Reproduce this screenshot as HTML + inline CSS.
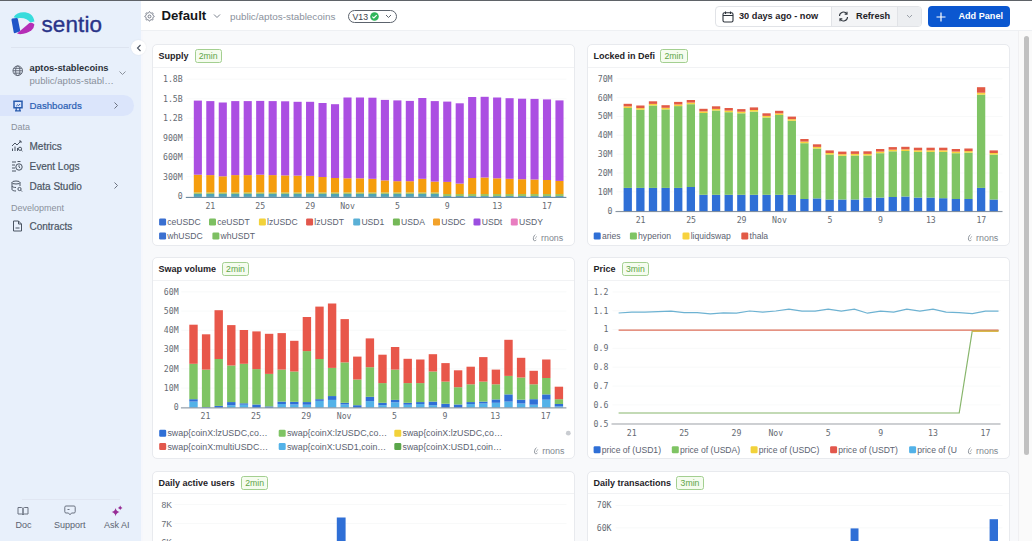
<!DOCTYPE html>
<html><head><meta charset="utf-8">
<style>
*{box-sizing:border-box;margin:0;padding:0}
html,body{width:1032px;height:541px;overflow:hidden;background:#f8f9fb;font-family:"Liberation Sans",Arial,sans-serif;}
.abs{position:absolute}
#sidebar{position:absolute;left:0;top:0;width:140.5px;height:541px;background:#e8f0fb;}
#header{position:absolute;left:141px;top:0;width:891px;height:31px;background:#fff;border-bottom:1px solid #eef0f3}
#topline{position:absolute;left:0;top:0;width:1032px;height:1px;background:#5f6368;z-index:5}
.panel{position:absolute;width:423px;height:202px;background:#fff;border:1px solid #e8eaee;border-radius:5px;overflow:hidden}
.ptitle{position:absolute;left:5.5px;top:5px;font-size:9px;font-weight:bold;color:#1f2328;white-space:nowrap;line-height:11px}
.badge{position:absolute;top:4px;height:14px;border:1px solid #a3cf90;background:#f5fcef;color:#5fa548;font-size:8.7px;line-height:12px;padding:0 3.2px;border-radius:2.5px}
.psep{position:absolute;left:0;top:21.6px;width:100%;height:1px;background:#f1f2f4}
.nav{position:absolute;left:11px;font-size:10px;color:#4b5563;white-space:nowrap;-webkit-text-stroke:0.2px #4b5563}
.sect{position:absolute;left:11px;font-size:9px;color:#8a919c}
svg text{white-space:pre}
</style></head><body>
<div id="topline"></div>
<div class="abs" style="left:140.5px;top:0;width:2.5px;height:541px;background:#f6f7fc"></div>
<div id="sidebar">
 <svg class="abs" style="left:8px;top:9px" width="30" height="30" viewBox="0 0 30 30">
   <path d="M5.6 8.2 C8.5 3.2 16.5 1.6 22.5 5.2 C24.6 6.6 26 9.3 26.4 12.6 L22.3 13.6 C20.2 10.6 15.4 8.3 9.8 9.4 Z" fill="#38dcdc"/>
   <path d="M4.3 9.4 Q3.3 9.7 3.5 11 L5.7 23.2 Q6.1 24.5 7.3 24.1 L11.6 22.6 Q12.4 22.1 12.1 21 L9.9 10.3 Q9.6 9.1 8.5 9.1 Z" fill="#1f55c8"/>
   <path d="M9 24.6 L21.4 14.1 Q24.6 13.2 26.4 15.6 Q26.1 19.2 23.5 21.2 Q19 24.6 12 25.3 Z" fill="#b52db6"/>
 </svg>
 <div class="abs" style="left:41.5px;top:11.5px;font-size:22.5px;color:#2a3489;letter-spacing:0.1px;-webkit-text-stroke:0.35px #2a3489">sentio</div>
 <div class="abs" style="left:11px;top:46.5px;width:118px;height:1px;background:#dde4f0"></div>
 <svg class="abs" style="left:11.5px;top:65px" width="11.5" height="11.5" viewBox="0 0 12 12" fill="none" stroke="#5b6270" stroke-width="0.95">
   <circle cx="6" cy="6" r="5"/><ellipse cx="6" cy="6" rx="2.2" ry="5"/><path d="M1 6h10M1.8 3.5h8.4M1.8 8.5h8.4"/>
 </svg>
 <div class="abs" style="left:29.5px;top:62.8px;font-size:9.3px;font-weight:bold;color:#2d333b">aptos-stablecoins</div>
 <div class="abs" style="left:29.5px;top:75px;font-size:9.6px;color:#8a919c">public/aptos-stabl…</div>
 <svg class="abs" style="left:118px;top:70px" width="9" height="6" viewBox="0 0 9 6" fill="none" stroke="#8a919c" stroke-width="1"><path d="M1.5 1.5l3 3 3-3"/></svg>
 <div class="abs" style="left:0;top:95px;width:134px;height:21px;background:#dbe5fb;border-radius:0 11px 11px 0"></div>
 <svg class="abs" style="left:11.5px;top:99.5px" width="12" height="12" viewBox="0 0 12 12" fill="none" stroke="#2a5cae" stroke-width="1.5">
   <path d="M1.2 1.2h9.6M2 1.2v6.6h8V1.2"/><path d="M4.2 8v2.6M7.8 8v2.6M3 10.9h6" stroke-width="1.3"/><path d="M4.2 6.2l1.4-1.4 1 .8 1.5-1.6" stroke-width="1"/>
 </svg>
 <div class="nav" style="left:29.5px;top:100px;color:#2b5fb4;font-size:9.7px;-webkit-text-stroke:0.2px #2b5fb4">Dashboards</div>
 <svg class="abs" style="left:113px;top:101px" width="6" height="9" viewBox="0 0 6 9" fill="none" stroke="#6b7280" stroke-width="1"><path d="M1.5 1.5l3 3-3 3"/></svg>
 <div class="sect" style="top:122px">Data</div>
 <svg class="abs" style="left:11px;top:140px" width="12" height="12" viewBox="0 0 12 12" fill="none" stroke="#4b5563" stroke-width="1">
   <path d="M1 6l3-3 2 2 4-4M8 1h2v2"/><path d="M1.5 11V8.5M4 11V6.5M6.5 11V8"/><circle cx="9" cy="8.8" r="1.6"/><path d="M10.2 10l1.2 1.2"/>
 </svg>
 <div class="nav" style="left:29.5px;top:140.5px">Metrics</div>
 <svg class="abs" style="left:11px;top:160px" width="12" height="12" viewBox="0 0 12 12" fill="none" stroke="#4b5563" stroke-width="1">
   <path d="M1 2h4M1 5h3M1 8h3M1 11h4"/><circle cx="8" cy="7" r="3.2"/><path d="M8 5.2V7l1.2 1M6.5 1.5h3"/>
 </svg>
 <div class="nav" style="left:29.5px;top:160.5px">Event Logs</div>
 <svg class="abs" style="left:11px;top:180px" width="12" height="12" viewBox="0 0 12 12" fill="none" stroke="#4b5563" stroke-width="1">
   <ellipse cx="5" cy="2.5" rx="4" ry="1.5"/><path d="M1 2.5v7c0 .8 1.8 1.5 4 1.5M9 2.5V6M1 6c0 .8 1.8 1.5 4 1.5"/><circle cx="8.5" cy="9" r="1.6"/><path d="M9.7 10.2l1.3 1.3"/>
 </svg>
 <div class="nav" style="left:29.5px;top:180.5px">Data Studio</div>
 <svg class="abs" style="left:113px;top:181px" width="6" height="9" viewBox="0 0 6 9" fill="none" stroke="#6b7280" stroke-width="1"><path d="M1.5 1.5l3 3-3 3"/></svg>
 <div class="sect" style="top:202.5px">Development</div>
 <svg class="abs" style="left:11px;top:220px" width="12" height="12" viewBox="0 0 12 12" fill="none" stroke="#4b5563" stroke-width="1">
   <path d="M2.5 1h5l3 3v7h-8z"/><path d="M7.5 1v3h3M4.5 8h4"/>
 </svg>
 <div class="nav" style="left:29.5px;top:220.5px">Contracts</div>
 <div class="abs" style="left:22px;top:499px;width:98px;height:1px;background:#e0e6f2"></div>
 <svg class="abs" style="left:17px;top:506px" width="12" height="10" viewBox="0 0 12 10" fill="none" stroke="#6b7280" stroke-width="1">
   <path d="M1 1.5h3.5c.8 0 1.5.7 1.5 1.5v6c0-.6-.6-1-1.2-1H1zM11 1.5H7.5C6.7 1.5 6 2.2 6 3v6c0-.6.6-1 1.2-1H11z"/>
 </svg>
 <div class="abs" style="left:15.5px;top:520px;font-size:9px;color:#5b6270">Doc</div>
 <svg class="abs" style="left:64px;top:505px" width="12" height="11" viewBox="0 0 12 11" fill="none" stroke="#6b7280" stroke-width="1">
   <path d="M2 1h8a1.2 1.2 0 0 1 1.2 1.2v4.6A1.2 1.2 0 0 1 10 8H7.5L6 9.8 4.5 8H2A1.2 1.2 0 0 1 .8 6.8V2.2A1.2 1.2 0 0 1 2 1z"/><path d="M3.5 4.5h2"/>
 </svg>
 <div class="abs" style="left:54px;top:520px;font-size:9px;color:#5b6270">Support</div>
 <svg class="abs" style="left:110.5px;top:505px" width="12" height="12" viewBox="0 0 12 12" fill="#972c95">
   <path d="M4.6 3 Q5.3 6.4 8.6 7.1 Q5.3 7.8 4.6 11.2 Q3.9 7.8 0.6 7.1 Q3.9 6.4 4.6 3 Z"/><path d="M9.2 0.6 Q9.6 2.5 11.5 2.9 Q9.6 3.3 9.2 5.2 Q8.8 3.3 6.9 2.9 Q8.8 2.5 9.2 0.6 Z"/>
 </svg>
 <div class="abs" style="left:104px;top:520px;font-size:9px;color:#5b6270">Ask AI</div>
</div>
<div class="abs" style="left:131px;top:40px;width:15px;height:15px;border-radius:50%;background:#fff;box-shadow:0 0 2px rgba(0,0,0,0.08);z-index:3"></div>
<svg class="abs" style="left:135.5px;top:44px;z-index:4" width="6" height="8" viewBox="0 0 6 8" fill="none" stroke="#4b5563" stroke-width="1.1"><path d="M4.5 1l-3 3 3 3"/></svg>
<div id="header">
 <svg class="abs" style="left:3px;top:10.5px" width="11" height="11" viewBox="0 0 24 24" fill="none" stroke="#6b7280" stroke-width="2">
  <path d="M10.3 2.6c.4-1.3 3-1.3 3.4 0l.3 1a1.7 1.7 0 0 0 2.5 1l.9-.5c1.2-.7 3 1.1 2.3 2.3l-.5.9a1.7 1.7 0 0 0 1 2.5l1 .3c1.3.4 1.3 3 0 3.4l-1 .3a1.7 1.7 0 0 0-1 2.5l.5.9c.7 1.2-1.1 3-2.3 2.3l-.9-.5a1.7 1.7 0 0 0-2.5 1l-.3 1c-.4 1.3-3 1.3-3.4 0l-.3-1a1.7 1.7 0 0 0-2.5-1l-.9.5c-1.2.7-3-1.1-2.3-2.3l.5-.9a1.7 1.7 0 0 0-1-2.5l-1-.3c-1.3-.4-1.3-3 0-3.4l1-.3a1.7 1.7 0 0 0 1-2.5l-.5-.9c-.7-1.2 1.1-3 2.3-2.3l.9.5a1.7 1.7 0 0 0 2.5-1z"/><circle cx="12" cy="12" r="3.2"/>
 </svg>
 <div class="abs" style="left:20.5px;top:8.2px;font-size:13.2px;font-weight:bold;color:#15171a">Default</div>
 <svg class="abs" style="left:71.5px;top:13px" width="8" height="6" viewBox="0 0 8 6" fill="none" stroke="#7b828d" stroke-width="1"><path d="M1 1.5l3 3 3-3"/></svg>
 <div class="abs" style="left:89px;top:11px;font-size:9.9px;color:#8a919c">public/aptos-stablecoins</div>
 <div class="abs" style="left:206.5px;top:10px;width:49px;height:12.5px;border:1px solid #5c636d;border-radius:7px"></div>
 <div class="abs" style="left:211.5px;top:11.5px;font-size:8.7px;color:#3c424a">V13</div>
 <svg class="abs" style="left:229px;top:12px" width="9" height="9" viewBox="0 0 9 9"><circle cx="4.5" cy="4.5" r="4.3" fill="#2fb55a"/><path d="M2.3 4.6l1.5 1.4 2.9-2.9" fill="none" stroke="#fff" stroke-width="1.1"/></svg>
 <svg class="abs" style="left:244px;top:14px" width="7" height="5" viewBox="0 0 7 5" fill="none" stroke="#5c636d" stroke-width="1"><path d="M1 1l2.5 2.5L6 1"/></svg>
 <div class="abs" style="left:573.5px;top:6px;width:207px;height:20.5px;border:1px solid #e1e3e7;border-radius:4px;background:#fff;overflow:hidden">
   <div class="abs" style="left:115px;top:0;width:66px;height:100%;background:#f3f4f6;border-left:1px solid #e1e3e7"></div>
   <div class="abs" style="left:181px;top:0;width:26px;height:100%;background:#eceef1;border-left:1px solid #e1e3e7"></div>
 </div>
 <svg class="abs" style="left:580.5px;top:10.5px" width="12" height="12" viewBox="0 0 12 12" fill="none" stroke="#2d333b" stroke-width="1.1">
  <rect x="1" y="1.8" width="10" height="9.2" rx="1.5"/><path d="M1 4.5h10M3.5 .5v2.5M8.5 .5v2.5"/>
 </svg>
 <div class="abs" style="left:598px;top:10.5px;font-size:9.2px;font-weight:bold;color:#1f2328">30 days ago - now</div>
 <svg class="abs" style="left:697px;top:11px" width="11" height="11" viewBox="0 0 11 11" fill="none" stroke="#2d333b" stroke-width="1.1">
  <path d="M1.5 5A4 4 0 0 1 8.8 2.8M9.5 6A4 4 0 0 1 2.2 8.2"/><path d="M9 .8v2.3H6.7M2 10.2V7.9h2.3"/>
 </svg>
 <div class="abs" style="left:715px;top:10.5px;font-size:9.2px;font-weight:bold;color:#1f2328">Refresh</div>
 <svg class="abs" style="left:765px;top:14px" width="7" height="5" viewBox="0 0 7 5" fill="none" stroke="#9aa0a8" stroke-width="1"><path d="M1 1l2.5 2.5L6 1"/></svg>
 <div class="abs" style="left:786.5px;top:6px;width:82px;height:20.5px;background:#0b57d0;border-radius:4px"></div>
 <svg class="abs" style="left:795px;top:11.5px" width="10" height="10" viewBox="0 0 10 10" fill="none" stroke="#fff" stroke-width="1.2"><path d="M5 .5v9M.5 5h9"/></svg>
 <div class="abs" style="left:817.5px;top:10.5px;font-size:9.1px;font-weight:bold;color:#fff">Add Panel</div>
</div>
<div class="abs" style="left:1017.5px;top:31px;width:14.5px;height:510px;background:#fafafa;border-left:1px solid #f0f0f2"></div>
<div class="abs" style="left:1023.8px;top:35.5px;width:5px;height:419px;background:#c1c1c1;border-radius:3px"></div>
<div class="panel" style="left:151.6px;top:44px"><div class="ptitle" style="left:6px;top:6px">Supply</div><div class="badge" style="left:42px;top:4.4px">2min</div><div class="psep"></div><svg class="abs" style="left:-1px;top:-1px" width="423" height="202" viewBox="151.6 44 423 202"><text x="182.30" y="82.10" font-size="8.2" fill="#666b73" text-anchor="end" font-family='"DejaVu Sans Mono", "Liberation Mono", monospace' font-weight="normal">1.8B</text>
<line x1="186" y1="79.20" x2="566" y2="79.20" stroke="#f6f7f8" stroke-width="0.8"/>
<text x="182.30" y="101.60" font-size="8.2" fill="#666b73" text-anchor="end" font-family='"DejaVu Sans Mono", "Liberation Mono", monospace' font-weight="normal">1.5B</text>
<line x1="186" y1="98.70" x2="566" y2="98.70" stroke="#f6f7f8" stroke-width="0.8"/>
<text x="182.30" y="121.10" font-size="8.2" fill="#666b73" text-anchor="end" font-family='"DejaVu Sans Mono", "Liberation Mono", monospace' font-weight="normal">1.2B</text>
<line x1="186" y1="118.20" x2="566" y2="118.20" stroke="#f6f7f8" stroke-width="0.8"/>
<text x="182.30" y="140.60" font-size="8.2" fill="#666b73" text-anchor="end" font-family='"DejaVu Sans Mono", "Liberation Mono", monospace' font-weight="normal">900M</text>
<line x1="186" y1="137.70" x2="566" y2="137.70" stroke="#f6f7f8" stroke-width="0.8"/>
<text x="182.30" y="160.10" font-size="8.2" fill="#666b73" text-anchor="end" font-family='"DejaVu Sans Mono", "Liberation Mono", monospace' font-weight="normal">600M</text>
<line x1="186" y1="157.20" x2="566" y2="157.20" stroke="#f6f7f8" stroke-width="0.8"/>
<text x="182.30" y="179.60" font-size="8.2" fill="#666b73" text-anchor="end" font-family='"DejaVu Sans Mono", "Liberation Mono", monospace' font-weight="normal">300M</text>
<line x1="186" y1="176.70" x2="566" y2="176.70" stroke="#f6f7f8" stroke-width="0.8"/>
<text x="182.30" y="199.10" font-size="8.2" fill="#666b73" text-anchor="end" font-family='"DejaVu Sans Mono", "Liberation Mono", monospace' font-weight="normal">0</text>
<line x1="186" y1="196.20" x2="566" y2="196.20" stroke="#f6f7f8" stroke-width="0.8"/><rect x="193.40" y="193.90" width="8.10" height="3.00" fill="#4fa3b5"/>
<rect x="193.40" y="192.50" width="8.10" height="1.40" fill="#a3c25c"/>
<rect x="193.40" y="174.70" width="8.10" height="17.80" fill="#f59d0d"/>
<rect x="193.40" y="100.60" width="8.10" height="74.10" fill="#ab4fe2"/>
<rect x="205.87" y="193.90" width="8.10" height="3.00" fill="#4fa3b5"/>
<rect x="205.87" y="192.50" width="8.10" height="1.40" fill="#a3c25c"/>
<rect x="205.87" y="175.10" width="8.10" height="17.40" fill="#f59d0d"/>
<rect x="205.87" y="101.10" width="8.10" height="74.00" fill="#ab4fe2"/>
<rect x="218.34" y="193.90" width="8.10" height="3.00" fill="#4fa3b5"/>
<rect x="218.34" y="192.50" width="8.10" height="1.40" fill="#a3c25c"/>
<rect x="218.34" y="176.30" width="8.10" height="16.20" fill="#f59d0d"/>
<rect x="218.34" y="102.50" width="8.10" height="73.80" fill="#ab4fe2"/>
<rect x="230.81" y="193.90" width="8.10" height="3.00" fill="#4fa3b5"/>
<rect x="230.81" y="192.50" width="8.10" height="1.40" fill="#a3c25c"/>
<rect x="230.81" y="175.10" width="8.10" height="17.40" fill="#f59d0d"/>
<rect x="230.81" y="101.10" width="8.10" height="74.00" fill="#ab4fe2"/>
<rect x="243.28" y="193.90" width="8.10" height="3.00" fill="#4fa3b5"/>
<rect x="243.28" y="192.50" width="8.10" height="1.40" fill="#a3c25c"/>
<rect x="243.28" y="175.10" width="8.10" height="17.40" fill="#f59d0d"/>
<rect x="243.28" y="101.10" width="8.10" height="74.00" fill="#ab4fe2"/>
<rect x="255.75" y="193.90" width="8.10" height="3.00" fill="#4fa3b5"/>
<rect x="255.75" y="192.50" width="8.10" height="1.40" fill="#a3c25c"/>
<rect x="255.75" y="174.70" width="8.10" height="17.80" fill="#f59d0d"/>
<rect x="255.75" y="100.90" width="8.10" height="73.80" fill="#ab4fe2"/>
<rect x="268.22" y="193.90" width="8.10" height="3.00" fill="#4fa3b5"/>
<rect x="268.22" y="192.50" width="8.10" height="1.40" fill="#a3c25c"/>
<rect x="268.22" y="175.10" width="8.10" height="17.40" fill="#f59d0d"/>
<rect x="268.22" y="101.10" width="8.10" height="74.00" fill="#ab4fe2"/>
<rect x="280.69" y="193.90" width="8.10" height="3.00" fill="#4fa3b5"/>
<rect x="280.69" y="192.50" width="8.10" height="1.40" fill="#a3c25c"/>
<rect x="280.69" y="175.40" width="8.10" height="17.10" fill="#f59d0d"/>
<rect x="280.69" y="101.30" width="8.10" height="74.10" fill="#ab4fe2"/>
<rect x="293.16" y="193.90" width="8.10" height="3.00" fill="#4fa3b5"/>
<rect x="293.16" y="192.50" width="8.10" height="1.40" fill="#a3c25c"/>
<rect x="293.16" y="175.60" width="8.10" height="16.90" fill="#f59d0d"/>
<rect x="293.16" y="101.80" width="8.10" height="73.80" fill="#ab4fe2"/>
<rect x="305.63" y="193.90" width="8.10" height="3.00" fill="#4fa3b5"/>
<rect x="305.63" y="192.50" width="8.10" height="1.40" fill="#a3c25c"/>
<rect x="305.63" y="175.90" width="8.10" height="16.60" fill="#f59d0d"/>
<rect x="305.63" y="101.80" width="8.10" height="74.10" fill="#ab4fe2"/>
<rect x="318.10" y="193.90" width="8.10" height="3.00" fill="#4fa3b5"/>
<rect x="318.10" y="192.50" width="8.10" height="1.40" fill="#a3c25c"/>
<rect x="318.10" y="177.00" width="8.10" height="15.50" fill="#f59d0d"/>
<rect x="318.10" y="103.00" width="8.10" height="74.00" fill="#ab4fe2"/>
<rect x="330.57" y="193.90" width="8.10" height="3.00" fill="#4fa3b5"/>
<rect x="330.57" y="192.50" width="8.10" height="1.40" fill="#a3c25c"/>
<rect x="330.57" y="178.00" width="8.10" height="14.50" fill="#f59d0d"/>
<rect x="330.57" y="104.20" width="8.10" height="73.80" fill="#ab4fe2"/>
<rect x="343.04" y="193.90" width="8.10" height="3.00" fill="#4fa3b5"/>
<rect x="343.04" y="192.50" width="8.10" height="1.40" fill="#a3c25c"/>
<rect x="343.04" y="178.30" width="8.10" height="14.20" fill="#f59d0d"/>
<rect x="343.04" y="97.50" width="8.10" height="80.80" fill="#ab4fe2"/>
<rect x="355.51" y="193.90" width="8.10" height="3.00" fill="#4fa3b5"/>
<rect x="355.51" y="192.50" width="8.10" height="1.40" fill="#a3c25c"/>
<rect x="355.51" y="178.30" width="8.10" height="14.20" fill="#f59d0d"/>
<rect x="355.51" y="97.50" width="8.10" height="80.80" fill="#ab4fe2"/>
<rect x="367.98" y="193.90" width="8.10" height="3.00" fill="#4fa3b5"/>
<rect x="367.98" y="192.50" width="8.10" height="1.40" fill="#a3c25c"/>
<rect x="367.98" y="178.80" width="8.10" height="13.70" fill="#f59d0d"/>
<rect x="367.98" y="97.70" width="8.10" height="81.10" fill="#ab4fe2"/>
<rect x="380.45" y="193.90" width="8.10" height="3.00" fill="#4fa3b5"/>
<rect x="380.45" y="192.50" width="8.10" height="1.40" fill="#a3c25c"/>
<rect x="380.45" y="180.40" width="8.10" height="12.10" fill="#f59d0d"/>
<rect x="380.45" y="99.90" width="8.10" height="80.50" fill="#ab4fe2"/>
<rect x="392.92" y="193.90" width="8.10" height="3.00" fill="#4fa3b5"/>
<rect x="392.92" y="192.50" width="8.10" height="1.40" fill="#a3c25c"/>
<rect x="392.92" y="181.20" width="8.10" height="11.30" fill="#f59d0d"/>
<rect x="392.92" y="100.40" width="8.10" height="80.80" fill="#ab4fe2"/>
<rect x="405.39" y="193.90" width="8.10" height="3.00" fill="#4fa3b5"/>
<rect x="405.39" y="192.50" width="8.10" height="1.40" fill="#a3c25c"/>
<rect x="405.39" y="181.20" width="8.10" height="11.30" fill="#f59d0d"/>
<rect x="405.39" y="100.90" width="8.10" height="80.30" fill="#ab4fe2"/>
<rect x="417.86" y="193.90" width="8.10" height="3.00" fill="#4fa3b5"/>
<rect x="417.86" y="192.50" width="8.10" height="1.40" fill="#a3c25c"/>
<rect x="417.86" y="178.80" width="8.10" height="13.70" fill="#f59d0d"/>
<rect x="417.86" y="98.00" width="8.10" height="80.80" fill="#ab4fe2"/>
<rect x="430.33" y="193.90" width="8.10" height="3.00" fill="#4fa3b5"/>
<rect x="430.33" y="192.50" width="8.10" height="1.40" fill="#a3c25c"/>
<rect x="430.33" y="181.60" width="8.10" height="10.90" fill="#f59d0d"/>
<rect x="430.33" y="101.10" width="8.10" height="80.50" fill="#ab4fe2"/>
<rect x="442.80" y="196.00" width="8.10" height="0.90" fill="#4fa3b5"/>
<rect x="442.80" y="194.00" width="8.10" height="2.00" fill="#a3c25c"/>
<rect x="442.80" y="181.90" width="8.10" height="12.10" fill="#f59d0d"/>
<rect x="442.80" y="101.60" width="8.10" height="80.30" fill="#ab4fe2"/>
<rect x="455.27" y="196.00" width="8.10" height="0.90" fill="#4fa3b5"/>
<rect x="455.27" y="194.00" width="8.10" height="2.00" fill="#a3c25c"/>
<rect x="455.27" y="183.60" width="8.10" height="10.40" fill="#f59d0d"/>
<rect x="455.27" y="103.30" width="8.10" height="80.30" fill="#ab4fe2"/>
<rect x="467.74" y="196.00" width="8.10" height="0.90" fill="#4fa3b5"/>
<rect x="467.74" y="194.00" width="8.10" height="2.00" fill="#a3c25c"/>
<rect x="467.74" y="178.00" width="8.10" height="16.00" fill="#f59d0d"/>
<rect x="467.74" y="97.00" width="8.10" height="81.00" fill="#ab4fe2"/>
<rect x="480.21" y="196.00" width="8.10" height="0.90" fill="#4fa3b5"/>
<rect x="480.21" y="194.00" width="8.10" height="2.00" fill="#a3c25c"/>
<rect x="480.21" y="177.50" width="8.10" height="16.50" fill="#f59d0d"/>
<rect x="480.21" y="96.80" width="8.10" height="80.70" fill="#ab4fe2"/>
<rect x="492.68" y="196.00" width="8.10" height="0.90" fill="#4fa3b5"/>
<rect x="492.68" y="194.00" width="8.10" height="2.00" fill="#a3c25c"/>
<rect x="492.68" y="178.30" width="8.10" height="15.70" fill="#f59d0d"/>
<rect x="492.68" y="97.50" width="8.10" height="80.80" fill="#ab4fe2"/>
<rect x="505.15" y="196.00" width="8.10" height="0.90" fill="#4fa3b5"/>
<rect x="505.15" y="194.00" width="8.10" height="2.00" fill="#a3c25c"/>
<rect x="505.15" y="178.80" width="8.10" height="15.20" fill="#f59d0d"/>
<rect x="505.15" y="98.20" width="8.10" height="80.60" fill="#ab4fe2"/>
<rect x="517.62" y="196.00" width="8.10" height="0.90" fill="#4fa3b5"/>
<rect x="517.62" y="194.00" width="8.10" height="2.00" fill="#a3c25c"/>
<rect x="517.62" y="179.20" width="8.10" height="14.80" fill="#f59d0d"/>
<rect x="517.62" y="98.70" width="8.10" height="80.50" fill="#ab4fe2"/>
<rect x="530.09" y="196.00" width="8.10" height="0.90" fill="#4fa3b5"/>
<rect x="530.09" y="194.00" width="8.10" height="2.00" fill="#a3c25c"/>
<rect x="530.09" y="179.50" width="8.10" height="14.50" fill="#f59d0d"/>
<rect x="530.09" y="98.90" width="8.10" height="80.60" fill="#ab4fe2"/>
<rect x="542.56" y="196.00" width="8.10" height="0.90" fill="#4fa3b5"/>
<rect x="542.56" y="194.00" width="8.10" height="2.00" fill="#a3c25c"/>
<rect x="542.56" y="180.00" width="8.10" height="14.00" fill="#f59d0d"/>
<rect x="542.56" y="99.40" width="8.10" height="80.60" fill="#ab4fe2"/>
<rect x="555.03" y="196.00" width="8.10" height="0.90" fill="#4fa3b5"/>
<rect x="555.03" y="194.00" width="8.10" height="2.00" fill="#a3c25c"/>
<rect x="555.03" y="180.90" width="8.10" height="13.10" fill="#f59d0d"/>
<rect x="555.03" y="100.40" width="8.10" height="80.50" fill="#ab4fe2"/><line x1="185.4" y1="197.40" x2="566" y2="197.40" stroke="#5f7f98" stroke-width="1"/><text x="209.97" y="208.90" font-size="8.2" fill="#666b73" text-anchor="middle" font-family='"DejaVu Sans Mono", "Liberation Mono", monospace' font-weight="normal">21</text>
<text x="259.85" y="208.90" font-size="8.2" fill="#666b73" text-anchor="middle" font-family='"DejaVu Sans Mono", "Liberation Mono", monospace' font-weight="normal">25</text>
<text x="309.73" y="208.90" font-size="8.2" fill="#666b73" text-anchor="middle" font-family='"DejaVu Sans Mono", "Liberation Mono", monospace' font-weight="normal">29</text>
<text x="347.14" y="208.90" font-size="8.2" fill="#666b73" text-anchor="middle" font-family='"DejaVu Sans Mono", "Liberation Mono", monospace' font-weight="normal">Nov</text>
<text x="397.02" y="208.90" font-size="8.2" fill="#666b73" text-anchor="middle" font-family='"DejaVu Sans Mono", "Liberation Mono", monospace' font-weight="normal">5</text>
<text x="446.90" y="208.90" font-size="8.2" fill="#666b73" text-anchor="middle" font-family='"DejaVu Sans Mono", "Liberation Mono", monospace' font-weight="normal">9</text>
<text x="496.78" y="208.90" font-size="8.2" fill="#666b73" text-anchor="middle" font-family='"DejaVu Sans Mono", "Liberation Mono", monospace' font-weight="normal">13</text>
<text x="546.66" y="208.90" font-size="8.2" fill="#666b73" text-anchor="middle" font-family='"DejaVu Sans Mono", "Liberation Mono", monospace' font-weight="normal">17</text><rect x="158.70" y="218.50" width="7" height="7" rx="1.3" fill="#3a6fd0"/><text x="166.90" y="225.10" font-size="8.6" fill="#5b6270" font-family='"Liberation Sans", Arial, sans-serif'>ceUSDC</text><rect x="208.60" y="218.50" width="7" height="7" rx="1.3" fill="#7dbf62"/><text x="216.80" y="225.10" font-size="8.6" fill="#5b6270" font-family='"Liberation Sans", Arial, sans-serif'>ceUSDT</text><rect x="258.50" y="218.50" width="7" height="7" rx="1.3" fill="#f2d23a"/><text x="266.70" y="225.10" font-size="8.6" fill="#5b6270" font-family='"Liberation Sans", Arial, sans-serif'>lzUSDC</text><rect x="305.70" y="218.50" width="7" height="7" rx="1.3" fill="#e2574c"/><text x="313.90" y="225.10" font-size="8.6" fill="#5b6270" font-family='"Liberation Sans", Arial, sans-serif'>lzUSDT</text><rect x="352.80" y="218.50" width="7" height="7" rx="1.3" fill="#5ab0d6"/><text x="361.00" y="225.10" font-size="8.6" fill="#5b6270" font-family='"Liberation Sans", Arial, sans-serif'>USD1</text><rect x="392.50" y="218.50" width="7" height="7" rx="1.3" fill="#74b857"/><text x="400.70" y="225.10" font-size="8.6" fill="#5b6270" font-family='"Liberation Sans", Arial, sans-serif'>USDA</text><rect x="432.60" y="218.50" width="7" height="7" rx="1.3" fill="#f3a22a"/><text x="440.80" y="225.10" font-size="8.6" fill="#5b6270" font-family='"Liberation Sans", Arial, sans-serif'>USDC</text><rect x="473.10" y="218.50" width="7" height="7" rx="1.3" fill="#9b4fe0"/><text x="481.30" y="225.10" font-size="8.6" fill="#5b6270" font-family='"Liberation Sans", Arial, sans-serif'>USDt</text><rect x="510.40" y="218.50" width="7" height="7" rx="1.3" fill="#e87dc0"/><text x="518.60" y="225.10" font-size="8.6" fill="#5b6270" font-family='"Liberation Sans", Arial, sans-serif'>USDY</text><rect x="158.70" y="232.50" width="7" height="7" rx="1.3" fill="#3a6fd0"/><text x="166.90" y="239.10" font-size="8.6" fill="#5b6270" font-family='"Liberation Sans", Arial, sans-serif'>whUSDC</text><rect x="212.00" y="232.50" width="7" height="7" rx="1.3" fill="#7dbf62"/><text x="220.20" y="239.10" font-size="8.6" fill="#5b6270" font-family='"Liberation Sans", Arial, sans-serif'>whUSDT</text><path d="M534.90 234.60 C533.10 236.00 532.40 238.60 533.30 240.30 C534.10 241.10 535.30 240.60 535.90 240.00" fill="none" stroke="#8e949c" stroke-width="1"/><path d="M534.60 239.00 L536.30 236.20" fill="none" stroke="#a4a9b0" stroke-width="0.8"/><text x="540.60" y="240.60" font-size="8.9" fill="#80868f" font-family='"Liberation Sans", Arial, sans-serif'>rnons</text></svg></div><div class="panel" style="left:586.5px;top:44px"><div class="ptitle" style="left:6px;top:6px">Locked in Defi</div><div class="badge" style="left:72.8px;top:4.4px">2min</div><div class="psep"></div><svg class="abs" style="left:-1px;top:-1px" width="423" height="202" viewBox="586.5 44 423 202"><text x="612.00" y="81.70" font-size="8.2" fill="#666b73" text-anchor="end" font-family='"DejaVu Sans Mono", "Liberation Mono", monospace' font-weight="normal">70M</text>
<line x1="616" y1="78.80" x2="1002" y2="78.80" stroke="#f6f7f8" stroke-width="0.8"/>
<text x="612.00" y="100.54" font-size="8.2" fill="#666b73" text-anchor="end" font-family='"DejaVu Sans Mono", "Liberation Mono", monospace' font-weight="normal">60M</text>
<line x1="616" y1="97.64" x2="1002" y2="97.64" stroke="#f6f7f8" stroke-width="0.8"/>
<text x="612.00" y="119.38" font-size="8.2" fill="#666b73" text-anchor="end" font-family='"DejaVu Sans Mono", "Liberation Mono", monospace' font-weight="normal">50M</text>
<line x1="616" y1="116.48" x2="1002" y2="116.48" stroke="#f6f7f8" stroke-width="0.8"/>
<text x="612.00" y="138.22" font-size="8.2" fill="#666b73" text-anchor="end" font-family='"DejaVu Sans Mono", "Liberation Mono", monospace' font-weight="normal">40M</text>
<line x1="616" y1="135.32" x2="1002" y2="135.32" stroke="#f6f7f8" stroke-width="0.8"/>
<text x="612.00" y="157.06" font-size="8.2" fill="#666b73" text-anchor="end" font-family='"DejaVu Sans Mono", "Liberation Mono", monospace' font-weight="normal">30M</text>
<line x1="616" y1="154.16" x2="1002" y2="154.16" stroke="#f6f7f8" stroke-width="0.8"/>
<text x="612.00" y="175.90" font-size="8.2" fill="#666b73" text-anchor="end" font-family='"DejaVu Sans Mono", "Liberation Mono", monospace' font-weight="normal">20M</text>
<line x1="616" y1="173.00" x2="1002" y2="173.00" stroke="#f6f7f8" stroke-width="0.8"/>
<text x="612.00" y="194.74" font-size="8.2" fill="#666b73" text-anchor="end" font-family='"DejaVu Sans Mono", "Liberation Mono", monospace' font-weight="normal">10M</text>
<line x1="616" y1="191.84" x2="1002" y2="191.84" stroke="#f6f7f8" stroke-width="0.8"/>
<text x="612.00" y="213.58" font-size="8.2" fill="#666b73" text-anchor="end" font-family='"DejaVu Sans Mono", "Liberation Mono", monospace' font-weight="normal">0</text>
<line x1="616" y1="210.68" x2="1002" y2="210.68" stroke="#f6f7f8" stroke-width="0.8"/><rect x="623.10" y="187.90" width="8.30" height="23.70" fill="#2f6fd6"/>
<rect x="623.10" y="108.00" width="8.30" height="79.90" fill="#7fc464"/>
<rect x="623.10" y="106.40" width="8.30" height="1.60" fill="#f7d23e"/>
<rect x="623.10" y="103.80" width="8.30" height="2.60" fill="#e25a45"/>
<rect x="635.72" y="187.90" width="8.30" height="23.70" fill="#2f6fd6"/>
<rect x="635.72" y="109.70" width="8.30" height="78.20" fill="#7fc464"/>
<rect x="635.72" y="108.10" width="8.30" height="1.60" fill="#f7d23e"/>
<rect x="635.72" y="105.50" width="8.30" height="2.60" fill="#e25a45"/>
<rect x="648.34" y="187.90" width="8.30" height="23.70" fill="#2f6fd6"/>
<rect x="648.34" y="105.50" width="8.30" height="82.40" fill="#7fc464"/>
<rect x="648.34" y="103.90" width="8.30" height="1.60" fill="#f7d23e"/>
<rect x="648.34" y="101.30" width="8.30" height="2.60" fill="#e25a45"/>
<rect x="660.96" y="187.90" width="8.30" height="23.70" fill="#2f6fd6"/>
<rect x="660.96" y="109.40" width="8.30" height="78.50" fill="#7fc464"/>
<rect x="660.96" y="107.80" width="8.30" height="1.60" fill="#f7d23e"/>
<rect x="660.96" y="105.20" width="8.30" height="2.60" fill="#e25a45"/>
<rect x="673.58" y="187.90" width="8.30" height="23.70" fill="#2f6fd6"/>
<rect x="673.58" y="106.10" width="8.30" height="81.80" fill="#7fc464"/>
<rect x="673.58" y="104.50" width="8.30" height="1.60" fill="#f7d23e"/>
<rect x="673.58" y="101.90" width="8.30" height="2.60" fill="#e25a45"/>
<rect x="686.20" y="187.00" width="8.30" height="24.60" fill="#2f6fd6"/>
<rect x="686.20" y="104.20" width="8.30" height="82.80" fill="#7fc464"/>
<rect x="686.20" y="102.60" width="8.30" height="1.60" fill="#f7d23e"/>
<rect x="686.20" y="100.00" width="8.30" height="2.60" fill="#e25a45"/>
<rect x="698.82" y="194.80" width="8.30" height="16.80" fill="#2f6fd6"/>
<rect x="698.82" y="113.00" width="8.30" height="81.80" fill="#7fc464"/>
<rect x="698.82" y="111.40" width="8.30" height="1.60" fill="#f7d23e"/>
<rect x="698.82" y="108.80" width="8.30" height="2.60" fill="#e25a45"/>
<rect x="711.44" y="194.80" width="8.30" height="16.80" fill="#2f6fd6"/>
<rect x="711.44" y="110.50" width="8.30" height="84.30" fill="#7fc464"/>
<rect x="711.44" y="108.90" width="8.30" height="1.60" fill="#f7d23e"/>
<rect x="711.44" y="106.30" width="8.30" height="2.60" fill="#e25a45"/>
<rect x="724.06" y="194.80" width="8.30" height="16.80" fill="#2f6fd6"/>
<rect x="724.06" y="112.20" width="8.30" height="82.60" fill="#7fc464"/>
<rect x="724.06" y="110.60" width="8.30" height="1.60" fill="#f7d23e"/>
<rect x="724.06" y="108.00" width="8.30" height="2.60" fill="#e25a45"/>
<rect x="736.68" y="194.80" width="8.30" height="16.80" fill="#2f6fd6"/>
<rect x="736.68" y="113.30" width="8.30" height="81.50" fill="#7fc464"/>
<rect x="736.68" y="111.70" width="8.30" height="1.60" fill="#f7d23e"/>
<rect x="736.68" y="109.10" width="8.30" height="2.60" fill="#e25a45"/>
<rect x="749.30" y="194.80" width="8.30" height="16.80" fill="#2f6fd6"/>
<rect x="749.30" y="111.60" width="8.30" height="83.20" fill="#7fc464"/>
<rect x="749.30" y="110.00" width="8.30" height="1.60" fill="#f7d23e"/>
<rect x="749.30" y="107.40" width="8.30" height="2.60" fill="#e25a45"/>
<rect x="761.92" y="194.80" width="8.30" height="16.80" fill="#2f6fd6"/>
<rect x="761.92" y="117.50" width="8.30" height="77.30" fill="#7fc464"/>
<rect x="761.92" y="115.90" width="8.30" height="1.60" fill="#f7d23e"/>
<rect x="761.92" y="113.30" width="8.30" height="2.60" fill="#e25a45"/>
<rect x="774.54" y="194.80" width="8.30" height="16.80" fill="#2f6fd6"/>
<rect x="774.54" y="115.00" width="8.30" height="79.80" fill="#7fc464"/>
<rect x="774.54" y="113.40" width="8.30" height="1.60" fill="#f7d23e"/>
<rect x="774.54" y="110.80" width="8.30" height="2.60" fill="#e25a45"/>
<rect x="787.16" y="194.80" width="8.30" height="16.80" fill="#2f6fd6"/>
<rect x="787.16" y="120.80" width="8.30" height="74.00" fill="#7fc464"/>
<rect x="787.16" y="119.20" width="8.30" height="1.60" fill="#f7d23e"/>
<rect x="787.16" y="116.60" width="8.30" height="2.60" fill="#e25a45"/>
<rect x="799.78" y="199.00" width="8.30" height="12.60" fill="#2f6fd6"/>
<rect x="799.78" y="143.20" width="8.30" height="55.80" fill="#7fc464"/>
<rect x="799.78" y="141.60" width="8.30" height="1.60" fill="#f7d23e"/>
<rect x="799.78" y="139.00" width="8.30" height="2.60" fill="#e25a45"/>
<rect x="812.40" y="198.40" width="8.30" height="13.20" fill="#2f6fd6"/>
<rect x="812.40" y="148.50" width="8.30" height="49.90" fill="#7fc464"/>
<rect x="812.40" y="146.90" width="8.30" height="1.60" fill="#f7d23e"/>
<rect x="812.40" y="144.30" width="8.30" height="2.60" fill="#e25a45"/>
<rect x="825.02" y="199.50" width="8.30" height="12.10" fill="#2f6fd6"/>
<rect x="825.02" y="154.60" width="8.30" height="44.90" fill="#7fc464"/>
<rect x="825.02" y="153.00" width="8.30" height="1.60" fill="#f7d23e"/>
<rect x="825.02" y="150.40" width="8.30" height="2.60" fill="#e25a45"/>
<rect x="837.64" y="199.50" width="8.30" height="12.10" fill="#2f6fd6"/>
<rect x="837.64" y="155.80" width="8.30" height="43.70" fill="#7fc464"/>
<rect x="837.64" y="154.20" width="8.30" height="1.60" fill="#f7d23e"/>
<rect x="837.64" y="151.60" width="8.30" height="2.60" fill="#e25a45"/>
<rect x="850.26" y="199.50" width="8.30" height="12.10" fill="#2f6fd6"/>
<rect x="850.26" y="155.50" width="8.30" height="44.00" fill="#7fc464"/>
<rect x="850.26" y="153.90" width="8.30" height="1.60" fill="#f7d23e"/>
<rect x="850.26" y="151.30" width="8.30" height="2.60" fill="#e25a45"/>
<rect x="862.88" y="197.60" width="8.30" height="14.00" fill="#2f6fd6"/>
<rect x="862.88" y="155.50" width="8.30" height="42.10" fill="#7fc464"/>
<rect x="862.88" y="153.90" width="8.30" height="1.60" fill="#f7d23e"/>
<rect x="862.88" y="151.30" width="8.30" height="2.60" fill="#e25a45"/>
<rect x="875.50" y="197.60" width="8.30" height="14.00" fill="#2f6fd6"/>
<rect x="875.50" y="153.20" width="8.30" height="44.40" fill="#7fc464"/>
<rect x="875.50" y="151.60" width="8.30" height="1.60" fill="#f7d23e"/>
<rect x="875.50" y="149.00" width="8.30" height="2.60" fill="#e25a45"/>
<rect x="888.12" y="197.00" width="8.30" height="14.60" fill="#2f6fd6"/>
<rect x="888.12" y="151.30" width="8.30" height="45.70" fill="#7fc464"/>
<rect x="888.12" y="149.70" width="8.30" height="1.60" fill="#f7d23e"/>
<rect x="888.12" y="147.10" width="8.30" height="2.60" fill="#e25a45"/>
<rect x="900.74" y="196.50" width="8.30" height="15.10" fill="#2f6fd6"/>
<rect x="900.74" y="151.00" width="8.30" height="45.50" fill="#7fc464"/>
<rect x="900.74" y="149.40" width="8.30" height="1.60" fill="#f7d23e"/>
<rect x="900.74" y="146.80" width="8.30" height="2.60" fill="#e25a45"/>
<rect x="913.36" y="197.60" width="8.30" height="14.00" fill="#2f6fd6"/>
<rect x="913.36" y="151.90" width="8.30" height="45.70" fill="#7fc464"/>
<rect x="913.36" y="150.30" width="8.30" height="1.60" fill="#f7d23e"/>
<rect x="913.36" y="147.70" width="8.30" height="2.60" fill="#e25a45"/>
<rect x="925.98" y="197.60" width="8.30" height="14.00" fill="#2f6fd6"/>
<rect x="925.98" y="151.90" width="8.30" height="45.70" fill="#7fc464"/>
<rect x="925.98" y="150.30" width="8.30" height="1.60" fill="#f7d23e"/>
<rect x="925.98" y="147.70" width="8.30" height="2.60" fill="#e25a45"/>
<rect x="938.60" y="198.20" width="8.30" height="13.40" fill="#2f6fd6"/>
<rect x="938.60" y="151.90" width="8.30" height="46.30" fill="#7fc464"/>
<rect x="938.60" y="150.30" width="8.30" height="1.60" fill="#f7d23e"/>
<rect x="938.60" y="147.70" width="8.30" height="2.60" fill="#e25a45"/>
<rect x="951.22" y="199.00" width="8.30" height="12.60" fill="#2f6fd6"/>
<rect x="951.22" y="153.20" width="8.30" height="45.80" fill="#7fc464"/>
<rect x="951.22" y="151.60" width="8.30" height="1.60" fill="#f7d23e"/>
<rect x="951.22" y="149.00" width="8.30" height="2.60" fill="#e25a45"/>
<rect x="963.84" y="199.00" width="8.30" height="12.60" fill="#2f6fd6"/>
<rect x="963.84" y="152.70" width="8.30" height="46.30" fill="#7fc464"/>
<rect x="963.84" y="151.10" width="8.30" height="1.60" fill="#f7d23e"/>
<rect x="963.84" y="148.50" width="8.30" height="2.60" fill="#e25a45"/>
<rect x="976.46" y="187.90" width="8.30" height="23.70" fill="#2f6fd6"/>
<rect x="976.46" y="94.70" width="8.30" height="93.20" fill="#7fc464"/>
<rect x="976.46" y="92.70" width="8.30" height="2.00" fill="#f7d23e"/>
<rect x="976.46" y="87.20" width="8.30" height="5.50" fill="#e25a45"/>
<rect x="989.08" y="199.50" width="8.30" height="12.10" fill="#2f6fd6"/>
<rect x="989.08" y="154.60" width="8.30" height="44.90" fill="#7fc464"/>
<rect x="989.08" y="153.00" width="8.30" height="1.60" fill="#f7d23e"/>
<rect x="989.08" y="150.40" width="8.30" height="2.60" fill="#e25a45"/><line x1="615" y1="211.60" x2="1002" y2="211.60" stroke="#7d8a99" stroke-width="1"/><text x="640.12" y="223.20" font-size="8.2" fill="#666b73" text-anchor="middle" font-family='"DejaVu Sans Mono", "Liberation Mono", monospace' font-weight="normal">21</text>
<text x="690.60" y="223.20" font-size="8.2" fill="#666b73" text-anchor="middle" font-family='"DejaVu Sans Mono", "Liberation Mono", monospace' font-weight="normal">25</text>
<text x="741.08" y="223.20" font-size="8.2" fill="#666b73" text-anchor="middle" font-family='"DejaVu Sans Mono", "Liberation Mono", monospace' font-weight="normal">29</text>
<text x="778.94" y="223.20" font-size="8.2" fill="#666b73" text-anchor="middle" font-family='"DejaVu Sans Mono", "Liberation Mono", monospace' font-weight="normal">Nov</text>
<text x="829.42" y="223.20" font-size="8.2" fill="#666b73" text-anchor="middle" font-family='"DejaVu Sans Mono", "Liberation Mono", monospace' font-weight="normal">5</text>
<text x="879.90" y="223.20" font-size="8.2" fill="#666b73" text-anchor="middle" font-family='"DejaVu Sans Mono", "Liberation Mono", monospace' font-weight="normal">9</text>
<text x="930.38" y="223.20" font-size="8.2" fill="#666b73" text-anchor="middle" font-family='"DejaVu Sans Mono", "Liberation Mono", monospace' font-weight="normal">13</text>
<text x="980.86" y="223.20" font-size="8.2" fill="#666b73" text-anchor="middle" font-family='"DejaVu Sans Mono", "Liberation Mono", monospace' font-weight="normal">17</text><rect x="593.20" y="232.50" width="7" height="7" rx="1.3" fill="#2f6fd6"/><text x="601.40" y="239.10" font-size="8.6" fill="#5b6270" font-family='"Liberation Sans", Arial, sans-serif'>aries</text><rect x="629.40" y="232.50" width="7" height="7" rx="1.3" fill="#7fc464"/><text x="637.60" y="239.10" font-size="8.6" fill="#5b6270" font-family='"Liberation Sans", Arial, sans-serif'>hyperion</text><rect x="682.00" y="232.50" width="7" height="7" rx="1.3" fill="#f7d23e"/><text x="690.20" y="239.10" font-size="8.6" fill="#5b6270" font-family='"Liberation Sans", Arial, sans-serif'>liquidswap</text><rect x="740.80" y="232.50" width="7" height="7" rx="1.3" fill="#e25a45"/><text x="749.00" y="239.10" font-size="8.6" fill="#5b6270" font-family='"Liberation Sans", Arial, sans-serif'>thala</text><path d="M969.90 234.60 C968.10 236.00 967.40 238.60 968.30 240.30 C969.10 241.10 970.30 240.60 970.90 240.00" fill="none" stroke="#8e949c" stroke-width="1"/><path d="M969.60 239.00 L971.30 236.20" fill="none" stroke="#a4a9b0" stroke-width="0.8"/><text x="975.60" y="240.60" font-size="8.9" fill="#80868f" font-family='"Liberation Sans", Arial, sans-serif'>rnons</text></svg></div><div class="panel" style="left:151.6px;top:257px"><div class="ptitle" style="left:6px;top:6px">Swap volume</div><div class="badge" style="left:69.3px;top:4.4px">2min</div><div class="psep"></div><svg class="abs" style="left:-1px;top:-1px" width="423" height="202" viewBox="151.6 257 423 202"><text x="178.20" y="294.70" font-size="8.2" fill="#666b73" text-anchor="end" font-family='"DejaVu Sans Mono", "Liberation Mono", monospace' font-weight="normal">60M</text>
<line x1="181" y1="291.80" x2="566" y2="291.80" stroke="#f6f7f8" stroke-width="0.8"/>
<text x="178.20" y="313.95" font-size="8.2" fill="#666b73" text-anchor="end" font-family='"DejaVu Sans Mono", "Liberation Mono", monospace' font-weight="normal">50M</text>
<line x1="181" y1="311.05" x2="566" y2="311.05" stroke="#f6f7f8" stroke-width="0.8"/>
<text x="178.20" y="333.20" font-size="8.2" fill="#666b73" text-anchor="end" font-family='"DejaVu Sans Mono", "Liberation Mono", monospace' font-weight="normal">40M</text>
<line x1="181" y1="330.30" x2="566" y2="330.30" stroke="#f6f7f8" stroke-width="0.8"/>
<text x="178.20" y="352.45" font-size="8.2" fill="#666b73" text-anchor="end" font-family='"DejaVu Sans Mono", "Liberation Mono", monospace' font-weight="normal">30M</text>
<line x1="181" y1="349.55" x2="566" y2="349.55" stroke="#f6f7f8" stroke-width="0.8"/>
<text x="178.20" y="371.70" font-size="8.2" fill="#666b73" text-anchor="end" font-family='"DejaVu Sans Mono", "Liberation Mono", monospace' font-weight="normal">20M</text>
<line x1="181" y1="368.80" x2="566" y2="368.80" stroke="#f6f7f8" stroke-width="0.8"/>
<text x="178.20" y="390.95" font-size="8.2" fill="#666b73" text-anchor="end" font-family='"DejaVu Sans Mono", "Liberation Mono", monospace' font-weight="normal">10M</text>
<line x1="181" y1="388.05" x2="566" y2="388.05" stroke="#f6f7f8" stroke-width="0.8"/>
<text x="178.20" y="410.20" font-size="8.2" fill="#666b73" text-anchor="end" font-family='"DejaVu Sans Mono", "Liberation Mono", monospace' font-weight="normal">0</text>
<line x1="181" y1="407.30" x2="566" y2="407.30" stroke="#f6f7f8" stroke-width="0.8"/><rect x="188.90" y="401.59" width="8.40" height="6.01" fill="#53b2e8"/>
<rect x="188.90" y="399.18" width="8.40" height="2.40" fill="#2f6fd6"/>
<rect x="188.90" y="363.80" width="8.40" height="35.38" fill="#7fc464"/>
<rect x="188.90" y="324.70" width="8.40" height="39.10" fill="#e8574a"/>
<rect x="201.50" y="407.12" width="8.40" height="0.48" fill="#2f6fd6"/>
<rect x="201.50" y="369.60" width="8.40" height="37.52" fill="#7fc464"/>
<rect x="201.50" y="334.30" width="8.40" height="35.30" fill="#e8574a"/>
<rect x="214.10" y="405.91" width="8.40" height="1.68" fill="#2f6fd6"/>
<rect x="214.10" y="359.00" width="8.40" height="46.91" fill="#7fc464"/>
<rect x="214.10" y="310.20" width="8.40" height="48.80" fill="#e8574a"/>
<rect x="226.70" y="405.19" width="8.40" height="2.41" fill="#53b2e8"/>
<rect x="226.70" y="402.07" width="8.40" height="3.12" fill="#2f6fd6"/>
<rect x="226.70" y="365.50" width="8.40" height="36.57" fill="#7fc464"/>
<rect x="226.70" y="325.10" width="8.40" height="40.40" fill="#e8574a"/>
<rect x="239.30" y="404.71" width="8.40" height="2.89" fill="#53b2e8"/>
<rect x="239.30" y="403.27" width="8.40" height="1.44" fill="#2f6fd6"/>
<rect x="239.30" y="363.80" width="8.40" height="39.47" fill="#7fc464"/>
<rect x="239.30" y="330.00" width="8.40" height="33.80" fill="#e8574a"/>
<rect x="251.90" y="404.47" width="8.40" height="3.12" fill="#2f6fd6"/>
<rect x="251.90" y="369.10" width="8.40" height="35.37" fill="#7fc464"/>
<rect x="251.90" y="331.40" width="8.40" height="37.70" fill="#e8574a"/>
<rect x="264.50" y="406.39" width="8.40" height="1.20" fill="#2f6fd6"/>
<rect x="264.50" y="373.90" width="8.40" height="32.49" fill="#7fc464"/>
<rect x="264.50" y="333.80" width="8.40" height="40.10" fill="#e8574a"/>
<rect x="277.10" y="403.99" width="8.40" height="3.61" fill="#53b2e8"/>
<rect x="277.10" y="401.59" width="8.40" height="2.40" fill="#2f6fd6"/>
<rect x="277.10" y="369.60" width="8.40" height="31.99" fill="#7fc464"/>
<rect x="277.10" y="333.10" width="8.40" height="36.50" fill="#e8574a"/>
<rect x="289.70" y="404.47" width="8.40" height="3.13" fill="#53b2e8"/>
<rect x="289.70" y="401.83" width="8.40" height="2.64" fill="#2f6fd6"/>
<rect x="289.70" y="371.50" width="8.40" height="30.33" fill="#7fc464"/>
<rect x="289.70" y="340.80" width="8.40" height="30.70" fill="#e8574a"/>
<rect x="302.30" y="404.71" width="8.40" height="2.89" fill="#53b2e8"/>
<rect x="302.30" y="402.07" width="8.40" height="2.64" fill="#2f6fd6"/>
<rect x="302.30" y="351.10" width="8.40" height="50.97" fill="#7fc464"/>
<rect x="302.30" y="317.00" width="8.40" height="34.10" fill="#e8574a"/>
<rect x="314.90" y="400.87" width="8.40" height="6.73" fill="#53b2e8"/>
<rect x="314.90" y="399.18" width="8.40" height="1.68" fill="#2f6fd6"/>
<rect x="314.90" y="359.00" width="8.40" height="40.18" fill="#7fc464"/>
<rect x="314.90" y="306.60" width="8.40" height="52.40" fill="#e8574a"/>
<rect x="327.50" y="399.90" width="8.40" height="7.70" fill="#53b2e8"/>
<rect x="327.50" y="396.06" width="8.40" height="3.85" fill="#2f6fd6"/>
<rect x="327.50" y="367.90" width="8.40" height="28.16" fill="#7fc464"/>
<rect x="327.50" y="303.50" width="8.40" height="64.40" fill="#e8574a"/>
<rect x="340.10" y="404.47" width="8.40" height="3.13" fill="#53b2e8"/>
<rect x="340.10" y="402.79" width="8.40" height="1.68" fill="#2f6fd6"/>
<rect x="340.10" y="362.40" width="8.40" height="40.39" fill="#7fc464"/>
<rect x="340.10" y="319.10" width="8.40" height="43.30" fill="#e8574a"/>
<rect x="352.70" y="405.19" width="8.40" height="2.40" fill="#2f6fd6"/>
<rect x="352.70" y="379.50" width="8.40" height="25.69" fill="#7fc464"/>
<rect x="352.70" y="356.60" width="8.40" height="22.90" fill="#e8574a"/>
<rect x="365.30" y="401.11" width="8.40" height="6.49" fill="#53b2e8"/>
<rect x="365.30" y="396.78" width="8.40" height="4.33" fill="#2f6fd6"/>
<rect x="365.30" y="367.20" width="8.40" height="29.58" fill="#7fc464"/>
<rect x="365.30" y="338.40" width="8.40" height="28.80" fill="#e8574a"/>
<rect x="377.90" y="405.19" width="8.40" height="2.41" fill="#53b2e8"/>
<rect x="377.90" y="402.79" width="8.40" height="2.40" fill="#2f6fd6"/>
<rect x="377.90" y="383.10" width="8.40" height="19.69" fill="#7fc464"/>
<rect x="377.90" y="354.70" width="8.40" height="28.40" fill="#e8574a"/>
<rect x="390.50" y="402.31" width="8.40" height="5.29" fill="#53b2e8"/>
<rect x="390.50" y="399.90" width="8.40" height="2.40" fill="#2f6fd6"/>
<rect x="390.50" y="369.60" width="8.40" height="30.30" fill="#7fc464"/>
<rect x="390.50" y="347.00" width="8.40" height="22.60" fill="#e8574a"/>
<rect x="403.10" y="404.71" width="8.40" height="2.89" fill="#53b2e8"/>
<rect x="403.10" y="402.79" width="8.40" height="1.92" fill="#2f6fd6"/>
<rect x="403.10" y="383.10" width="8.40" height="19.69" fill="#7fc464"/>
<rect x="403.10" y="358.80" width="8.40" height="24.30" fill="#e8574a"/>
<rect x="415.70" y="403.99" width="8.40" height="3.61" fill="#53b2e8"/>
<rect x="415.70" y="402.07" width="8.40" height="1.92" fill="#2f6fd6"/>
<rect x="415.70" y="383.10" width="8.40" height="18.97" fill="#7fc464"/>
<rect x="415.70" y="359.50" width="8.40" height="23.60" fill="#e8574a"/>
<rect x="428.30" y="405.19" width="8.40" height="2.41" fill="#53b2e8"/>
<rect x="428.30" y="401.59" width="8.40" height="3.61" fill="#2f6fd6"/>
<rect x="428.30" y="371.50" width="8.40" height="30.09" fill="#7fc464"/>
<rect x="428.30" y="354.20" width="8.40" height="17.30" fill="#e8574a"/>
<rect x="440.90" y="403.75" width="8.40" height="3.85" fill="#2f6fd6"/>
<rect x="440.90" y="381.60" width="8.40" height="22.15" fill="#7fc464"/>
<rect x="440.90" y="363.10" width="8.40" height="18.50" fill="#e8574a"/>
<rect x="453.50" y="404.47" width="8.40" height="3.12" fill="#2f6fd6"/>
<rect x="453.50" y="387.20" width="8.40" height="17.27" fill="#7fc464"/>
<rect x="453.50" y="370.30" width="8.40" height="16.90" fill="#e8574a"/>
<rect x="466.10" y="403.99" width="8.40" height="3.61" fill="#53b2e8"/>
<rect x="466.10" y="402.07" width="8.40" height="1.92" fill="#2f6fd6"/>
<rect x="466.10" y="384.30" width="8.40" height="17.77" fill="#7fc464"/>
<rect x="466.10" y="366.70" width="8.40" height="17.60" fill="#e8574a"/>
<rect x="478.70" y="403.51" width="8.40" height="4.09" fill="#53b2e8"/>
<rect x="478.70" y="401.59" width="8.40" height="1.92" fill="#2f6fd6"/>
<rect x="478.70" y="381.60" width="8.40" height="19.99" fill="#7fc464"/>
<rect x="478.70" y="357.10" width="8.40" height="24.50" fill="#e8574a"/>
<rect x="491.30" y="402.79" width="8.40" height="4.81" fill="#53b2e8"/>
<rect x="491.30" y="399.42" width="8.40" height="3.37" fill="#2f6fd6"/>
<rect x="491.30" y="384.30" width="8.40" height="15.12" fill="#7fc464"/>
<rect x="491.30" y="369.60" width="8.40" height="14.70" fill="#e8574a"/>
<rect x="503.90" y="401.59" width="8.40" height="6.01" fill="#53b2e8"/>
<rect x="503.90" y="394.38" width="8.40" height="7.21" fill="#2f6fd6"/>
<rect x="503.90" y="375.90" width="8.40" height="18.48" fill="#7fc464"/>
<rect x="503.90" y="339.80" width="8.40" height="36.10" fill="#e8574a"/>
<rect x="516.50" y="403.51" width="8.40" height="4.09" fill="#53b2e8"/>
<rect x="516.50" y="399.66" width="8.40" height="3.85" fill="#2f6fd6"/>
<rect x="516.50" y="377.50" width="8.40" height="22.16" fill="#7fc464"/>
<rect x="516.50" y="357.80" width="8.40" height="19.70" fill="#e8574a"/>
<rect x="529.10" y="404.71" width="8.40" height="2.89" fill="#53b2e8"/>
<rect x="529.10" y="399.18" width="8.40" height="5.53" fill="#2f6fd6"/>
<rect x="529.10" y="384.30" width="8.40" height="14.88" fill="#7fc464"/>
<rect x="529.10" y="370.80" width="8.40" height="13.50" fill="#e8574a"/>
<rect x="541.70" y="399.66" width="8.40" height="7.94" fill="#53b2e8"/>
<rect x="541.70" y="394.38" width="8.40" height="5.29" fill="#2f6fd6"/>
<rect x="541.70" y="378.00" width="8.40" height="16.38" fill="#7fc464"/>
<rect x="541.70" y="359.50" width="8.40" height="18.50" fill="#e8574a"/>
<rect x="554.30" y="406.39" width="8.40" height="1.21" fill="#53b2e8"/>
<rect x="554.30" y="403.99" width="8.40" height="2.40" fill="#2f6fd6"/>
<rect x="554.30" y="399.20" width="8.40" height="4.79" fill="#7fc464"/>
<rect x="554.30" y="386.70" width="8.40" height="12.50" fill="#e8574a"/><line x1="180.5" y1="407.90" x2="566" y2="407.90" stroke="#7d8a99" stroke-width="1"/><text x="205.10" y="419.40" font-size="8.2" fill="#666b73" text-anchor="middle" font-family='"DejaVu Sans Mono", "Liberation Mono", monospace' font-weight="normal">21</text>
<text x="255.50" y="419.40" font-size="8.2" fill="#666b73" text-anchor="middle" font-family='"DejaVu Sans Mono", "Liberation Mono", monospace' font-weight="normal">25</text>
<text x="305.90" y="419.40" font-size="8.2" fill="#666b73" text-anchor="middle" font-family='"DejaVu Sans Mono", "Liberation Mono", monospace' font-weight="normal">29</text>
<text x="343.70" y="419.40" font-size="8.2" fill="#666b73" text-anchor="middle" font-family='"DejaVu Sans Mono", "Liberation Mono", monospace' font-weight="normal">Nov</text>
<text x="394.10" y="419.40" font-size="8.2" fill="#666b73" text-anchor="middle" font-family='"DejaVu Sans Mono", "Liberation Mono", monospace' font-weight="normal">5</text>
<text x="444.50" y="419.40" font-size="8.2" fill="#666b73" text-anchor="middle" font-family='"DejaVu Sans Mono", "Liberation Mono", monospace' font-weight="normal">9</text>
<text x="494.90" y="419.40" font-size="8.2" fill="#666b73" text-anchor="middle" font-family='"DejaVu Sans Mono", "Liberation Mono", monospace' font-weight="normal">13</text>
<text x="545.30" y="419.40" font-size="8.2" fill="#666b73" text-anchor="middle" font-family='"DejaVu Sans Mono", "Liberation Mono", monospace' font-weight="normal">17</text><rect x="158.80" y="429.70" width="7" height="7" rx="1.3" fill="#2f6fd6"/><text x="167.00" y="436.30" font-size="8.85" fill="#5b6270" font-family='"Liberation Sans", Arial, sans-serif'>swap{coinX:lzUSDC,co…</text><rect x="278.30" y="429.70" width="7" height="7" rx="1.3" fill="#7fc464"/><text x="286.50" y="436.30" font-size="8.85" fill="#5b6270" font-family='"Liberation Sans", Arial, sans-serif'>swap{coinX:lzUSDC,co…</text><rect x="393.90" y="429.70" width="7" height="7" rx="1.3" fill="#f2d23a"/><text x="402.10" y="436.30" font-size="8.85" fill="#5b6270" font-family='"Liberation Sans", Arial, sans-serif'>swap{coinX:lzUSDC,co…</text><rect x="158.80" y="443.10" width="7" height="7" rx="1.3" fill="#e2574c"/><text x="167.00" y="449.70" font-size="8.85" fill="#5b6270" font-family='"Liberation Sans", Arial, sans-serif'>swap{coinX:multiUSDC…</text><rect x="278.30" y="443.10" width="7" height="7" rx="1.3" fill="#53b2e8"/><text x="286.50" y="449.70" font-size="8.85" fill="#5b6270" font-family='"Liberation Sans", Arial, sans-serif'>swap{coinX:USD1,coin…</text><rect x="393.90" y="443.10" width="7" height="7" rx="1.3" fill="#5aa64a"/><text x="402.10" y="449.70" font-size="8.85" fill="#5b6270" font-family='"Liberation Sans", Arial, sans-serif'>swap{coinX:USD1,coin…</text><circle cx="567.9" cy="433.2" r="2.4" fill="#c9ccd1"/><path d="M536.10 447.60 C534.30 449.00 533.60 451.60 534.50 453.30 C535.30 454.10 536.50 453.60 537.10 453.00" fill="none" stroke="#8e949c" stroke-width="1"/><path d="M535.80 452.00 L537.50 449.20" fill="none" stroke="#a4a9b0" stroke-width="0.8"/><text x="541.80" y="453.60" font-size="8.9" fill="#80868f" font-family='"Liberation Sans", Arial, sans-serif'>rnons</text></svg></div><div class="panel" style="left:586.5px;top:257px"><div class="ptitle" style="left:6px;top:6px">Price</div><div class="badge" style="left:34.3px;top:4.4px">3min</div><div class="psep"></div><svg class="abs" style="left:-1px;top:-1px" width="423" height="202" viewBox="586.5 257 423 202"><text x="607.90" y="294.80" font-size="8.2" fill="#666b73" text-anchor="end" font-family='"DejaVu Sans Mono", "Liberation Mono", monospace' font-weight="normal">1.2</text>
<line x1="612" y1="291.90" x2="1000" y2="291.90" stroke="#f6f7f8" stroke-width="0.8"/>
<text x="607.90" y="313.63" font-size="8.2" fill="#666b73" text-anchor="end" font-family='"DejaVu Sans Mono", "Liberation Mono", monospace' font-weight="normal">1.1</text>
<line x1="612" y1="310.73" x2="1000" y2="310.73" stroke="#f6f7f8" stroke-width="0.8"/>
<text x="607.90" y="332.46" font-size="8.2" fill="#666b73" text-anchor="end" font-family='"DejaVu Sans Mono", "Liberation Mono", monospace' font-weight="normal">1</text>
<line x1="612" y1="329.56" x2="1000" y2="329.56" stroke="#f6f7f8" stroke-width="0.8"/>
<text x="607.90" y="351.29" font-size="8.2" fill="#666b73" text-anchor="end" font-family='"DejaVu Sans Mono", "Liberation Mono", monospace' font-weight="normal">0.9</text>
<line x1="612" y1="348.39" x2="1000" y2="348.39" stroke="#f6f7f8" stroke-width="0.8"/>
<text x="607.90" y="370.12" font-size="8.2" fill="#666b73" text-anchor="end" font-family='"DejaVu Sans Mono", "Liberation Mono", monospace' font-weight="normal">0.8</text>
<line x1="612" y1="367.22" x2="1000" y2="367.22" stroke="#f6f7f8" stroke-width="0.8"/>
<text x="607.90" y="388.95" font-size="8.2" fill="#666b73" text-anchor="end" font-family='"DejaVu Sans Mono", "Liberation Mono", monospace' font-weight="normal">0.7</text>
<line x1="612" y1="386.05" x2="1000" y2="386.05" stroke="#f6f7f8" stroke-width="0.8"/>
<text x="607.90" y="407.78" font-size="8.2" fill="#666b73" text-anchor="end" font-family='"DejaVu Sans Mono", "Liberation Mono", monospace' font-weight="normal">0.6</text>
<line x1="612" y1="404.88" x2="1000" y2="404.88" stroke="#f6f7f8" stroke-width="0.8"/>
<text x="607.90" y="426.61" font-size="8.2" fill="#666b73" text-anchor="end" font-family='"DejaVu Sans Mono", "Liberation Mono", monospace' font-weight="normal">0.5</text>
<line x1="612" y1="423.71" x2="1000" y2="423.71" stroke="#f6f7f8" stroke-width="0.8"/><line x1="611" y1="424" x2="1000" y2="424" stroke="#a0a4aa" stroke-width="1.2"/><text x="631.20" y="436.30" font-size="8.2" fill="#666b73" text-anchor="middle" font-family='"DejaVu Sans Mono", "Liberation Mono", monospace' font-weight="normal">21</text>
<text x="683.60" y="436.30" font-size="8.2" fill="#666b73" text-anchor="middle" font-family='"DejaVu Sans Mono", "Liberation Mono", monospace' font-weight="normal">25</text>
<text x="736.00" y="436.30" font-size="8.2" fill="#666b73" text-anchor="middle" font-family='"DejaVu Sans Mono", "Liberation Mono", monospace' font-weight="normal">29</text>
<text x="775.30" y="436.30" font-size="8.2" fill="#666b73" text-anchor="middle" font-family='"DejaVu Sans Mono", "Liberation Mono", monospace' font-weight="normal">Nov</text>
<text x="827.70" y="436.30" font-size="8.2" fill="#666b73" text-anchor="middle" font-family='"DejaVu Sans Mono", "Liberation Mono", monospace' font-weight="normal">5</text>
<text x="880.10" y="436.30" font-size="8.2" fill="#666b73" text-anchor="middle" font-family='"DejaVu Sans Mono", "Liberation Mono", monospace' font-weight="normal">9</text>
<text x="932.50" y="436.30" font-size="8.2" fill="#666b73" text-anchor="middle" font-family='"DejaVu Sans Mono", "Liberation Mono", monospace' font-weight="normal">13</text>
<text x="984.90" y="436.30" font-size="8.2" fill="#666b73" text-anchor="middle" font-family='"DejaVu Sans Mono", "Liberation Mono", monospace' font-weight="normal">17</text><polyline fill="none" stroke="#6db2d2" stroke-width="1.2" points="618.1,313.0 631.2,312.2 644.3,312.2 657.4,311.6 670.5,311.2 683.6,312.6 696.7,312.6 709.8,313.8 722.9,312.8 736.0,313.2 749.1,311.0 762.2,312.2 775.3,311.0 788.4,309.1 801.5,311.2 814.6,311.2 827.7,309.2 840.8,311.2 853.9,309.2 867.0,313.2 880.1,311.2 893.2,312.2 906.3,309.2 919.4,311.2 932.5,309.2 945.6,312.2 958.7,312.6 971.8,313.6 984.9,311.2 998.0,311.2"/><polyline fill="none" stroke="#88b66c" stroke-width="1.2" points="618.1,413 958.7,413 971.8,330.6 998.0,330.6"/><line x1="618.1" y1="330.2" x2="998.0" y2="330.2" stroke="#dc6e58" stroke-width="1.2"/><line x1="971.8" y1="331.2" x2="998.0" y2="331.2" stroke="#d9b94a" stroke-width="1.4"/><rect x="593.10" y="446.30" width="7" height="7" rx="1.3" fill="#2f6fd6"/><text x="601.30" y="452.90" font-size="8.6" fill="#5b6270" font-family='"Liberation Sans", Arial, sans-serif'>price of (USD1)</text><rect x="671.30" y="446.30" width="7" height="7" rx="1.3" fill="#7fc464"/><text x="679.50" y="452.90" font-size="8.6" fill="#5b6270" font-family='"Liberation Sans", Arial, sans-serif'>price of (USDA)</text><rect x="750.10" y="446.30" width="7" height="7" rx="1.3" fill="#f2d23a"/><text x="758.30" y="452.90" font-size="8.6" fill="#5b6270" font-family='"Liberation Sans", Arial, sans-serif'>price of (USDC)</text><rect x="829.60" y="446.30" width="7" height="7" rx="1.3" fill="#e2574c"/><text x="837.80" y="452.90" font-size="8.6" fill="#5b6270" font-family='"Liberation Sans", Arial, sans-serif'>price of (USDT)</text><rect x="908.60" y="446.30" width="7" height="7" rx="1.3" fill="#53b2e8"/><text x="916.80" y="452.90" font-size="8.6" fill="#5b6270" font-family='"Liberation Sans", Arial, sans-serif'>price of (U</text><path d="M969.90 447.60 C968.10 449.00 967.40 451.60 968.30 453.30 C969.10 454.10 970.30 453.60 970.90 453.00" fill="none" stroke="#8e949c" stroke-width="1"/><path d="M969.60 452.00 L971.30 449.20" fill="none" stroke="#a4a9b0" stroke-width="0.8"/><text x="975.60" y="453.60" font-size="8.9" fill="#80868f" font-family='"Liberation Sans", Arial, sans-serif'>rnons</text></svg></div><div class="panel" style="left:151.6px;top:470.5px"><div class="ptitle" style="left:6px;top:6px">Daily active users</div><div class="badge" style="left:88.5px;top:4.4px">2min</div><div class="psep"></div><svg class="abs" style="left:-1px;top:-1px" width="423" height="202" viewBox="151.6 470.5 423 202"><text x="171.70" y="507.10" font-size="8.6" fill="#666b73" text-anchor="end" font-family='"Liberation Sans", Arial, sans-serif' font-weight="normal">8K</text><line x1="174" y1="504.00" x2="566" y2="504.00" stroke="#f6f7f8" stroke-width="0.8"/><text x="171.70" y="526.10" font-size="8.6" fill="#666b73" text-anchor="end" font-family='"Liberation Sans", Arial, sans-serif' font-weight="normal">7K</text><line x1="174" y1="523.00" x2="566" y2="523.00" stroke="#f6f7f8" stroke-width="0.8"/><text x="171.70" y="544.90" font-size="8.6" fill="#666b73" text-anchor="end" font-family='"Liberation Sans", Arial, sans-serif' font-weight="normal">6K</text><line x1="174" y1="541.80" x2="566" y2="541.80" stroke="#f6f7f8" stroke-width="0.8"/><rect x="336.40" y="517.00" width="8.80" height="40.00" fill="#2f6fd6"/></svg></div><div class="panel" style="left:586.5px;top:470.5px"><div class="ptitle" style="left:6px;top:6px">Daily transactions</div><div class="badge" style="left:88.9px;top:4.4px">3min</div><div class="psep"></div><svg class="abs" style="left:-1px;top:-1px" width="423" height="202" viewBox="586.5 470.5 423 202"><text x="611.00" y="507.90" font-size="8.2" fill="#666b73" text-anchor="end" font-family='"DejaVu Sans Mono", "Liberation Mono", monospace' font-weight="normal">70K</text><line x1="615" y1="505.00" x2="1002" y2="505.00" stroke="#f6f7f8" stroke-width="0.8"/><text x="611.00" y="530.20" font-size="8.2" fill="#666b73" text-anchor="end" font-family='"DejaVu Sans Mono", "Liberation Mono", monospace' font-weight="normal">60K</text><line x1="615" y1="527.30" x2="1002" y2="527.30" stroke="#f6f7f8" stroke-width="0.8"/><rect x="850.10" y="527.90" width="7.90" height="40.00" fill="#2f6fd6"/><rect x="989.10" y="518.70" width="8.40" height="40.00" fill="#2f6fd6"/></svg></div></body></html>
